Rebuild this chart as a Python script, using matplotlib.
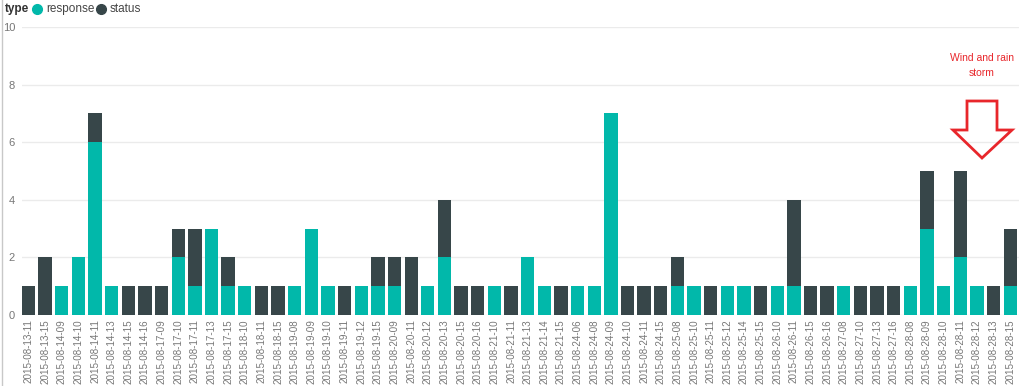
#Stacked bar chart of response / status events per hour slot
import matplotlib.pyplot as plt
from matplotlib.lines import Line2D
from matplotlib.patches import Polygon
import numpy as np

plt.rcParams['font.family'] = ['Liberation Sans', 'DejaVu Sans']

#Hour slots (date-hour)
slots = ["2015-08-13-11", "2015-08-13-15", "2015-08-14-09", "2015-08-14-10", "2015-08-14-11",
         "2015-08-14-13", "2015-08-14-15", "2015-08-14-16", "2015-08-17-09", "2015-08-17-10",
         "2015-08-17-11", "2015-08-17-13", "2015-08-17-15", "2015-08-18-10", "2015-08-18-11",
         "2015-08-18-15", "2015-08-19-08", "2015-08-19-09", "2015-08-19-10", "2015-08-19-11",
         "2015-08-19-12", "2015-08-19-15", "2015-08-20-09", "2015-08-20-11", "2015-08-20-12",
         "2015-08-20-13", "2015-08-20-15", "2015-08-20-16", "2015-08-21-10", "2015-08-21-11",
         "2015-08-21-13", "2015-08-21-14", "2015-08-21-15", "2015-08-24-06", "2015-08-24-08",
         "2015-08-24-09", "2015-08-24-10", "2015-08-24-11", "2015-08-24-15", "2015-08-25-08",
         "2015-08-25-10", "2015-08-25-11", "2015-08-25-12", "2015-08-25-14", "2015-08-25-15",
         "2015-08-26-10", "2015-08-26-11", "2015-08-26-15", "2015-08-26-16", "2015-08-27-08",
         "2015-08-27-10", "2015-08-27-13", "2015-08-27-16", "2015-08-28-08", "2015-08-28-09",
         "2015-08-28-10", "2015-08-28-11", "2015-08-28-12", "2015-08-28-13", "2015-08-28-15"]

#Counts per type
response = [0, 0, 1, 2, 6, 1, 0, 0, 0, 2,
            1, 3, 1, 1, 0, 0, 1, 3, 1, 0,
            1, 1, 1, 0, 1, 2, 0, 0, 1, 0,
            2, 1, 0, 1, 1, 7, 0, 0, 0, 1,
            1, 0, 1, 1, 0, 1, 1, 0, 0, 1,
            0, 0, 0, 1, 3, 1, 2, 1, 0, 1]
status = [1, 2, 0, 0, 1, 0, 1, 1, 1, 1,
          2, 0, 1, 0, 1, 1, 0, 0, 0, 1,
          0, 1, 1, 2, 0, 2, 1, 1, 0, 1,
          0, 0, 1, 0, 0, 0, 1, 1, 1, 1,
          0, 1, 0, 0, 1, 0, 3, 1, 1, 0,
          1, 1, 1, 0, 2, 0, 3, 0, 1, 2]

teal = "#01B8AA"
dark = "#374649"
grey = "#777777"

fig = plt.figure(figsize=(10.24, 3.86), dpi=100)
ax = fig.add_axes([22/1024, 1-315/386, (1019-22)/1024, (315-27)/386])

x = np.arange(len(slots))
ax.bar(x, response, width=0.8, color=teal, zorder=2)
ax.bar(x, status, width=0.8, bottom=response, color=dark, zorder=2)

ax.set_xlim(-0.39, len(slots) - 0.47)
ax.set_ylim(0, 10)
ax.set_yticks([0, 2, 4, 6, 8, 10])
ax.yaxis.grid(True, color="#ebebeb", lw=1, zorder=0)
for s in ax.spines.values():
    s.set_visible(False)
ax.tick_params(axis="y", length=0, pad=5, labelsize=8, labelcolor=grey)
ax.set_xticks(x)
ax.set_xticklabels(slots, rotation=90, fontsize=7.1, color=grey)
ax.tick_params(axis="x", length=0, pad=3)

#Legend drawn by hand like Power BI
fig.text(5/1024, 1-9/386, "type", fontsize=8.5, fontweight="bold", color="#333333", va="center")
for px, col, lab in [(37, teal, "response"), (101, dark, "status")]:
    fig.add_artist(Line2D([px/1024], [1-9/386], marker="o", markersize=7, color=col,
                          transform=fig.transFigure))
    fig.text((px+9)/1024, 1-9/386, lab, fontsize=8.5, color="#444444", va="center")

#Annotation
fig.text(982/1024, 1-58/386, "Wind and rain", fontsize=7.5, color="#e8262b", ha="center", va="center")
fig.text(982/1024, 1-73/386, "storm", fontsize=7.5, color="#e8262b", ha="center", va="center")
arrow_px = [(967, 101), (997, 101), (997, 130), (1012, 130), (982, 158), (953, 130), (967, 130)]
fig.add_artist(Polygon([(a/1024, 1-b/386) for a, b in arrow_px], closed=True, fill=False,
                       edgecolor="#e8262b", lw=2, transform=fig.transFigure))

#Frame bits of the visual
fig.add_artist(Line2D([1.5/1024, 1.5/1024], [0, 1], color="#c8c8c8", lw=1, transform=fig.transFigure))

fig.savefig("out.png", dpi=100)
